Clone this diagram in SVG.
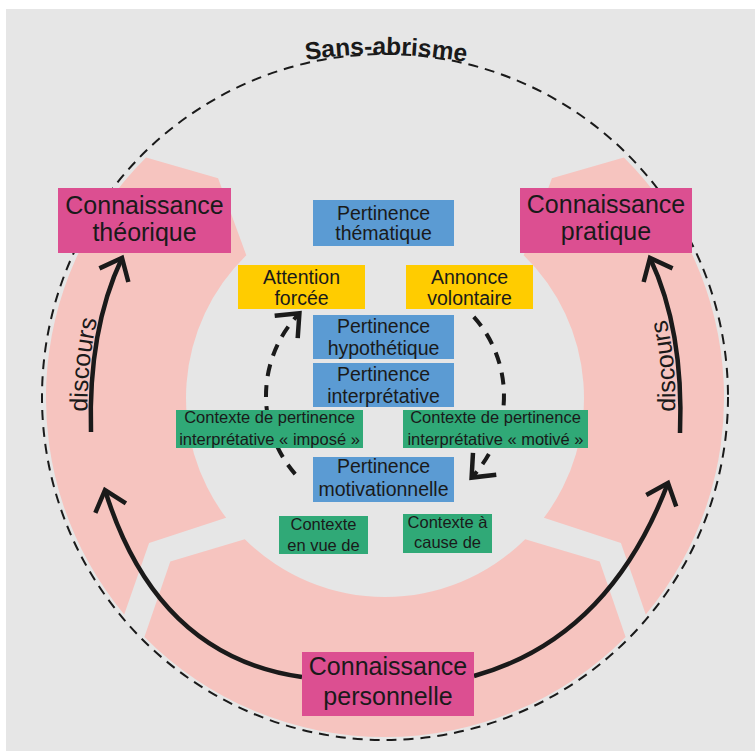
<svg xmlns="http://www.w3.org/2000/svg" width="755" height="751" viewBox="0 0 755 751">
  <style>
    .bg{fill:#e6e6e6}
    .ring{fill:#f6c4bf}
    .outline{fill:none;stroke:#1a1a1a;stroke-width:2;stroke-dasharray:10 7}
    .arc{fill:none;stroke:#1a1a1a;stroke-width:4.5}
    .dash{fill:none;stroke:#1a1a1a;stroke-width:4;stroke-dasharray:12 9}
    .t{font-family:"Liberation Sans",Arial,sans-serif;fill:#1a1a1a;text-anchor:middle}
    .big{font-size:25px}
    .mid{font-size:19.5px}
    .small{font-size:16.5px}
    .lbl{font-size:25px}
    .title{font-size:24.5px;font-weight:bold}
    .magenta{fill:#dc4f91}
    .blue{fill:#5b9bd3}
    .yellow{fill:#ffcc00}
    .green{fill:#30a977}
  </style>
  <defs>
    <marker id="head" markerUnits="userSpaceOnUse" viewBox="-30 -25 40 50" markerWidth="40" markerHeight="50" refX="0" refY="0" orient="auto" overflow="visible">
      <path d="M-19,-16 L0,0 L-19,16" fill="none" stroke="#1a1a1a" stroke-width="4.5"/>
    </marker>
    <path id="topArc" d="M180,96.2 A500,500 0 0 1 580,96.2"/>
    <path id="leftLabel" d="M87.5,425 Q86,357 100.5,307"/>
    <path id="rightLabel" d="M674.5,425 Q678,357 663,307"/>
  </defs>

  <!-- backdrop -->
  <rect class="bg" x="6" y="9" width="749" height="742"/>

  <!-- pink ring: three arrow-shaped segments -->
  <g id="ring">
    <path class="ring" d="M226.1,517.8 L149.1,543.1 L124.2,614.6 A339,339 0 0 1 146.1,157.4 L218.1,178.2 L246.3,255.3 A199,199 0 0 0 226.1,517.8 Z"/>
    <path class="ring" d="M244.8,539.2 L170.3,561.6 L144.4,636.9 A339,339 0 0 0 625.6,636.9 L599.7,561.6 L525.2,539.2 A199,199 0 0 1 244.8,539.2 Z"/>
    <path class="ring" d="M543.9,517.8 L620.9,543.1 L645.8,614.6 A339,339 0 0 0 623.9,157.4 L551.9,178.2 L523.7,255.3 A199,199 0 0 1 543.9,517.8 Z"/>
  </g>

  <!-- dashed boundary with its title -->
  <g id="boundary">
    <circle class="outline" cx="385" cy="397" r="343"/>
    <text class="t title"><textPath href="#topArc" startOffset="211.8">Sans-abrisme</textPath></text>
  </g>

  <!-- connectors -->
  <g id="connectors">
    <path class="arc" d="M91,432 Q88,330 122,258" marker-end="url(#head)"/>
    <path class="arc" d="M680,433 Q684,330 650,258" marker-end="url(#head)"/>
    <path class="arc" d="M302,677 Q156.5,656.5 105,490" marker-end="url(#head)"/>
    <path class="arc" d="M474,676 Q609,638.5 668,483" marker-end="url(#head)"/>
    <path class="dash" d="M295.2,474.1 A119,119 0 0 1 299.4,313.3" marker-end="url(#head)"/>
    <path class="dash" d="M473.8,316.8 A119,119 0 0 1 471.6,477.6" marker-end="url(#head)"/>
    <text class="t lbl"><textPath href="#leftLabel" startOffset="50%">discours</textPath></text>
    <text class="t lbl"><textPath href="#rightLabel" startOffset="50%">discours</textPath></text>
  </g>

  <!-- nodes -->
  <g id="theorique">
    <rect class="magenta" x="58" y="188" width="173" height="65"/>
    <text class="t big" x="144.5" y="214">Connaissance</text>
    <text class="t big" x="144.5" y="240.5">théorique</text>
  </g>
  <g id="pratique">
    <rect class="magenta" x="520" y="188" width="172" height="65"/>
    <text class="t big" x="606" y="213">Connaissance</text>
    <text class="t big" x="606" y="239.5">pratique</text>
  </g>
  <g id="personnelle">
    <rect class="magenta" x="302" y="652" width="172" height="64"/>
    <text class="t big" x="388" y="675">Connaissance</text>
    <text class="t big" x="388" y="705">personnelle</text>
  </g>

  <g id="thematique">
    <rect class="blue" x="313" y="200" width="141" height="46"/>
    <text class="t mid" x="383.5" y="219.5">Pertinence</text>
    <text class="t mid" x="383.5" y="240">thématique</text>
  </g>
  <g id="hypothetique">
    <rect class="blue" x="313" y="315" width="141" height="44"/>
    <text class="t mid" x="383.5" y="333">Pertinence</text>
    <text class="t mid" x="383.5" y="355">hypothétique</text>
  </g>
  <g id="interpretative">
    <rect class="blue" x="313" y="363" width="141" height="44"/>
    <text class="t mid" x="383.5" y="381">Pertinence</text>
    <text class="t mid" x="383.5" y="403">interprétative</text>
  </g>
  <g id="motivationnelle">
    <rect class="blue" x="313" y="457" width="141" height="45"/>
    <text class="t mid" x="383.5" y="473">Pertinence</text>
    <text class="t mid" x="383.5" y="496">motivationnelle</text>
  </g>

  <g id="attention">
    <rect class="yellow" x="238" y="265" width="127" height="44"/>
    <text class="t mid" x="301.5" y="284">Attention</text>
    <text class="t mid" x="301.5" y="304.5">forcée</text>
  </g>
  <g id="annonce">
    <rect class="yellow" x="406" y="265" width="127" height="44"/>
    <text class="t mid" x="469.5" y="284">Annonce</text>
    <text class="t mid" x="469.5" y="304.5">volontaire</text>
  </g>

  <g id="contexte-impose">
    <rect class="green" x="176" y="410" width="187" height="38"/>
    <text class="t small" x="269.5" y="423">Contexte de pertinence</text>
    <text class="t small" x="269.5" y="445">interprétative « imposé »</text>
  </g>
  <g id="contexte-motive">
    <rect class="green" x="403" y="410" width="185" height="38"/>
    <text class="t small" x="495.5" y="423">Contexte de pertinence</text>
    <text class="t small" x="495.5" y="445">interprétative « motivé »</text>
  </g>
  <g id="contexte-en-vue-de">
    <rect class="green" x="279" y="516" width="89" height="38"/>
    <text class="t small" x="323.5" y="530">Contexte</text>
    <text class="t small" x="323.5" y="551">en vue de</text>
  </g>
  <g id="contexte-a-cause-de">
    <rect class="green" x="403" y="514" width="89" height="39"/>
    <text class="t small" x="447.5" y="528">Contexte à</text>
    <text class="t small" x="447.5" y="548">cause de</text>
  </g>
</svg>
